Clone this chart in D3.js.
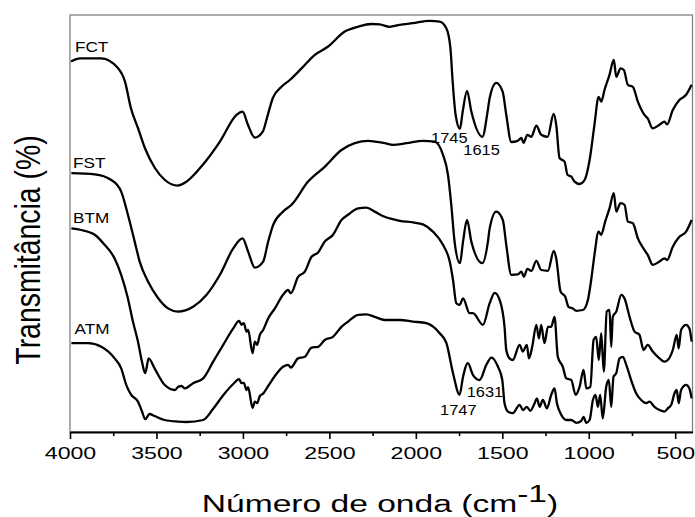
<!DOCTYPE html>
<html>
<head>
<meta charset="utf-8">
<script src="https://cdn.jsdelivr.net/npm/d3@7"></script>
<style>
  body { margin: 0; background: #fff; }
  text { font-family: "Liberation Sans", Arial, sans-serif; fill: #000; }
</style>
</head>
<body>
<div id="chart"></div>
<script>
// ---- data (wavenumber in cm-1, transmittance in a.u.) ----
const fctWave = [3994,3942,3884,3821,3723,3682,3648,3607,3567,3509,3451,3376,3326,3232,3133,3037,3002,2971,2931,2885,2856,2827,2777,2729,2661,2584,2509,2411,2336,2257,2209,2151,2093,2018,1920,1862,1823,1800,1787,1770,1745,1729,1704,1679,1615,1585,1573,1535,1498,1477,1448,1411,1390,1377,1355,1332,1303,1275,1238,1203,1188,1169,1140,1123,1100,1082,1053,1024,995,967,943,928,909,880,855,841,816,797,774,745,716,678,659,630,591,562,547,514,476,437,405];
const fctTrans = [92.6,93.4,93.4,93.4,91.0,87.6,81.0,76.0,71.0,66.0,63.0,61.6,62.6,66.8,72.6,79.3,80.1,76.8,73.6,75.1,79.3,83.5,86.3,88.0,90.9,94.3,96.3,100.1,101.3,102.0,101.9,101.3,101.8,102.2,102.8,102.6,100.9,96.0,87.6,79.3,75.8,80.1,85.3,80.1,73.8,80.1,83.5,87.3,85.1,79.3,72.5,72.8,73.5,72.3,74.3,73.8,76.6,74.3,73.8,79.5,76.8,68.5,67.6,64.3,63.8,62.6,62.0,63.0,68.0,76.8,83.8,82.6,85.5,89.3,93.0,88.8,90.9,90.5,86.8,86.3,82.6,79.3,78.4,75.9,76.8,77.6,76.9,80.5,83.0,84.3,86.8];

const fstWave = [3992,3857,3761,3704,3665,3626,3597,3549,3491,3433,3376,3288,3210,3133,3056,3002,2970,2931,2883,2854,2825,2768,2719,2623,2527,2430,2353,2276,2180,2132,2054,1959,1891,1843,1814,1795,1776,1745,1727,1704,1679,1615,1583,1573,1535,1497,1477,1448,1410,1390,1375,1355,1332,1303,1275,1236,1202,1188,1163,1136,1117,1092,1072,1034,1005,986,967,943,928,905,880,855,841,816,793,774,745,716,678,659,630,591,562,547,514,476,437,405];
const fstTrans = [64.7,64.4,63.0,60.1,54.3,47.6,42.6,37.6,33.5,30.9,30.1,31.3,34.3,39.3,45.9,48.4,45.1,41.1,42.6,47.6,51.8,55.1,56.8,62.6,66.3,70.5,72.2,72.8,72.2,71.8,72.2,72.8,72.6,69.3,64.3,56.8,47.6,42.2,47.6,53.0,47.6,42.2,47.6,50.9,55.1,53.0,46.8,39.3,39.4,40.1,38.8,40.8,40.3,42.8,40.5,40.3,45.3,43.4,35.1,33.8,31.3,30.9,30.3,30.5,33.0,38.0,44.3,50.1,49.3,52.6,55.9,59.7,55.1,57.2,56.8,52.6,52.2,48.4,45.5,44.3,41.8,42.6,43.4,43.0,46.3,48.8,50.1,53.0];

const btmWave = [3992,3935,3857,3800,3742,3704,3665,3636,3607,3584,3565,3545,3511,3453,3393,3374,3355,3336,3288,3230,3172,3114,3056,3022,3008,2995,2979,2970,2944,2931,2918,2902,2883,2854,2815,2768,2739,2723,2681,2642,2603,2565,2527,2479,2430,2392,2334,2286,2238,2180,2151,2093,2016,1959,1901,1843,1804,1785,1766,1747,1727,1689,1670,1612,1573,1544,1515,1487,1477,1458,1439,1400,1381,1358,1346,1327,1303,1288,1275,1256,1236,1217,1198,1179,1150,1130,1101,1076,1053,1030,1014,991,972,957,942,928,913,896,880,870,861,841,812,793,764,735,707,683,659,630,591,562,543,514,491,480,466,437,418,405];
const btmTrans = [50.9,50.5,49.3,46.8,43.4,39.3,33.4,27.6,22.6,17.6,14.7,18.4,15.9,11.8,10.5,11.3,11.5,10.9,12.2,13.4,17.6,21.8,25.9,27.8,26.8,27.2,25.1,25.5,19.7,22.6,21.8,24.3,25.5,28.4,30.9,34.3,35.5,34.7,38.8,40.1,43.8,44.9,47.6,49.3,53.0,54.3,55.9,56.1,55.1,53.8,53.4,52.8,52.4,51.9,50.1,46.8,42.6,38.0,32.2,31.8,33.4,29.7,29.7,26.8,32.2,34.8,33.0,26.3,20.5,18.4,18.0,21.8,20.1,21.8,18.4,21.3,26.8,23.4,26.8,22.2,26.3,26.3,28.8,18.8,16.3,13.4,13.0,9.3,11.3,15.5,10.9,11.3,23.0,23.8,18.0,24.7,15.1,30.1,30.5,21.3,28.8,30.1,34.3,33.4,28.8,25.1,24.3,20.5,21.8,20.1,18.4,17.6,18.0,20.5,24.3,20.9,25.5,26.8,25.9,22.6];

const atmWave = [3992,3896,3819,3742,3704,3675,3646,3607,3584,3565,3540,3511,3453,3376,3326,3230,3172,3114,3056,3022,3008,2995,2979,2970,2944,2931,2918,2902,2883,2854,2815,2768,2739,2723,2681,2642,2603,2565,2527,2479,2430,2392,2334,2286,2238,2180,2093,2016,1939,1862,1823,1785,1747,1727,1699,1670,1631,1592,1563,1525,1500,1487,1467,1439,1400,1381,1358,1338,1313,1300,1284,1265,1242,1217,1198,1184,1159,1130,1101,1072,1043,1030,1014,995,976,961,947,934,919,899,884,870,857,841,822,803,783,755,726,697,668,649,620,591,562,543,523,504,491,480,466,437,418,405];
const atmTrans = [22.2,22.2,21.3,18.4,15.9,11.8,9.3,7.6,5.2,3.2,4.5,4.0,3.0,2.6,2.5,3.0,5.8,9.2,12.0,13.2,12.2,12.3,10.5,11.2,6.0,7.6,7.2,9.0,9.6,11.5,14.0,16.3,16.8,16.1,18.4,18.8,21.1,21.3,23.0,23.8,26.3,27.6,29.3,29.4,28.8,28.0,28.0,27.6,27.2,24.7,22.2,14.7,9.3,13.8,17.2,14.3,13.0,16.8,18.6,16.3,13.0,7.2,5.1,4.7,6.8,5.5,6.3,5.3,7.2,8.4,6.3,8.0,5.9,9.3,10.9,7.2,4.3,3.0,3.0,2.3,2.8,3.8,2.3,3.0,8.0,9.3,6.3,9.3,3.4,11.3,13.0,6.3,13.8,14.7,18.4,18.8,16.8,13.0,9.7,8.0,7.2,7.6,6.3,5.5,5.1,5.9,6.8,9.7,10.5,7.2,10.5,11.8,10.9,8.4];

const seriesNames = ["FCT", "FST", "BTM", "ATM"];
const majorTicks = [4000, 3500, 3000, 2500, 2000, 1500, 1000, 500];
const minorTicks = [3750, 3250, 2750, 2250, 1750, 1250, 750];
const peakLabels = ["1745", "1615", "1631", "1747"];

const series = [
  {name: seriesNames[0], wave: fctWave, trans: fctTrans},
  {name: seriesNames[1], wave: fstWave, trans: fstTrans},
  {name: seriesNames[2], wave: btmWave, trans: btmTrans},
  {name: seriesNames[3], wave: atmWave, trans: atmTrans}
];

// ---- layout ----
const width = 695, height = 517;
const margin = {top: 15, right: 2.5, bottom: 85, left: 70};

const svg = d3.select("#chart")
  .append("svg")
    .attr("width", width)
    .attr("height", height);

const x = d3.scaleLinear()
  .domain([4000, 400])
  .range([margin.left, width - margin.right]);

const y = d3.scaleLinear()
  .domain([0, 104.25])
  .range([height - margin.bottom, margin.top]);

// grey frame
svg.append("rect")
  .attr("x", margin.left)
  .attr("y", margin.top)
  .attr("width", width - margin.right - margin.left)
  .attr("height", height - margin.bottom - margin.top)
  .attr("fill", "none")
  .attr("stroke", "#808080")
  .attr("stroke-width", 1.3);

// spectra
const line = d3.line()
  .x(d => x(d[0]))
  .y(d => y(d[1]))
  .curve(d3.curveMonotoneX);

series.forEach(s => {
  svg.append("path")
    .datum(d3.zip(s.wave, s.trans))
    .attr("fill", "none")
    .attr("stroke", "#000")
    .attr("stroke-width", 2.3)
    .attr("stroke-linejoin", "round")
    .attr("d", line);
});

// bottom axis, major + minor ticks
const axisY = height - margin.bottom;

const xAxis = svg.append("g")
  .attr("transform", "translate(0," + axisY + ")")
  .call(d3.axisBottom(x)
    .tickValues(majorTicks)
    .tickSize(7)
    .tickSizeOuter(0)
    .tickPadding(8.5)
    .tickFormat(d3.format("d")));

xAxis.select(".domain").attr("stroke", "#000").attr("stroke-width", 2.2);
xAxis.selectAll(".tick line").attr("stroke", "#000").attr("stroke-width", 1.6);
xAxis.selectAll(".tick text")
  .attr("transform", "scale(1.42,1)")
  .style("font-size", "16.3px")
  .style("font-family", '"Liberation Sans", Arial, sans-serif');

const minorAxis = svg.append("g")
  .attr("transform", "translate(0," + axisY + ")")
  .call(d3.axisBottom(x)
    .tickValues(minorTicks)
    .tickSize(4)
    .tickSizeOuter(0)
    .tickFormat(""));
minorAxis.select(".domain").remove();
minorAxis.selectAll(".tick line").attr("stroke", "#000").attr("stroke-width", 1.6);

// stretched text helper (the original figure is widened horizontally)
function addText(str, tx, ty, size, sx, anchor) {
  return svg.append("text")
    .attr("transform", "translate(" + tx + "," + ty + ") scale(" + sx + ",1)")
    .attr("text-anchor", anchor || "start")
    .style("font-size", size + "px")
    .text(str);
}

// series names
const namePos = [[75, 52], [73, 167.5], [73, 222.5], [74.5, 334]];
seriesNames.forEach((n, i) => addText(n, namePos[i][0], namePos[i][1], 15.2, 1.13));

// peak labels
const peakPos = [[431, 143.3], [463.3, 155], [466.7, 397], [440, 415]];
peakLabels.forEach((p, i) => addText(p, peakPos[i][0], peakPos[i][1], 14.8, 1.11));

// axis titles
const xTitle = svg.append("text")
  .attr("transform", "translate(380,511.7) scale(1.36,1)")
  .attr("text-anchor", "middle")
  .style("font-size", "24.7px");
xTitle.append("tspan").text("Número de onda (cm");
xTitle.append("tspan").attr("dy", -10).text("-1");
xTitle.append("tspan").attr("dy", 10).text(")");

svg.append("text")
  .attr("transform", "translate(40,250) rotate(-90) scale(1,1.23)")
  .attr("text-anchor", "middle")
  .style("font-size", "28.4px")
  .text("Transmitância (%)");
</script>
</body>
</html>
